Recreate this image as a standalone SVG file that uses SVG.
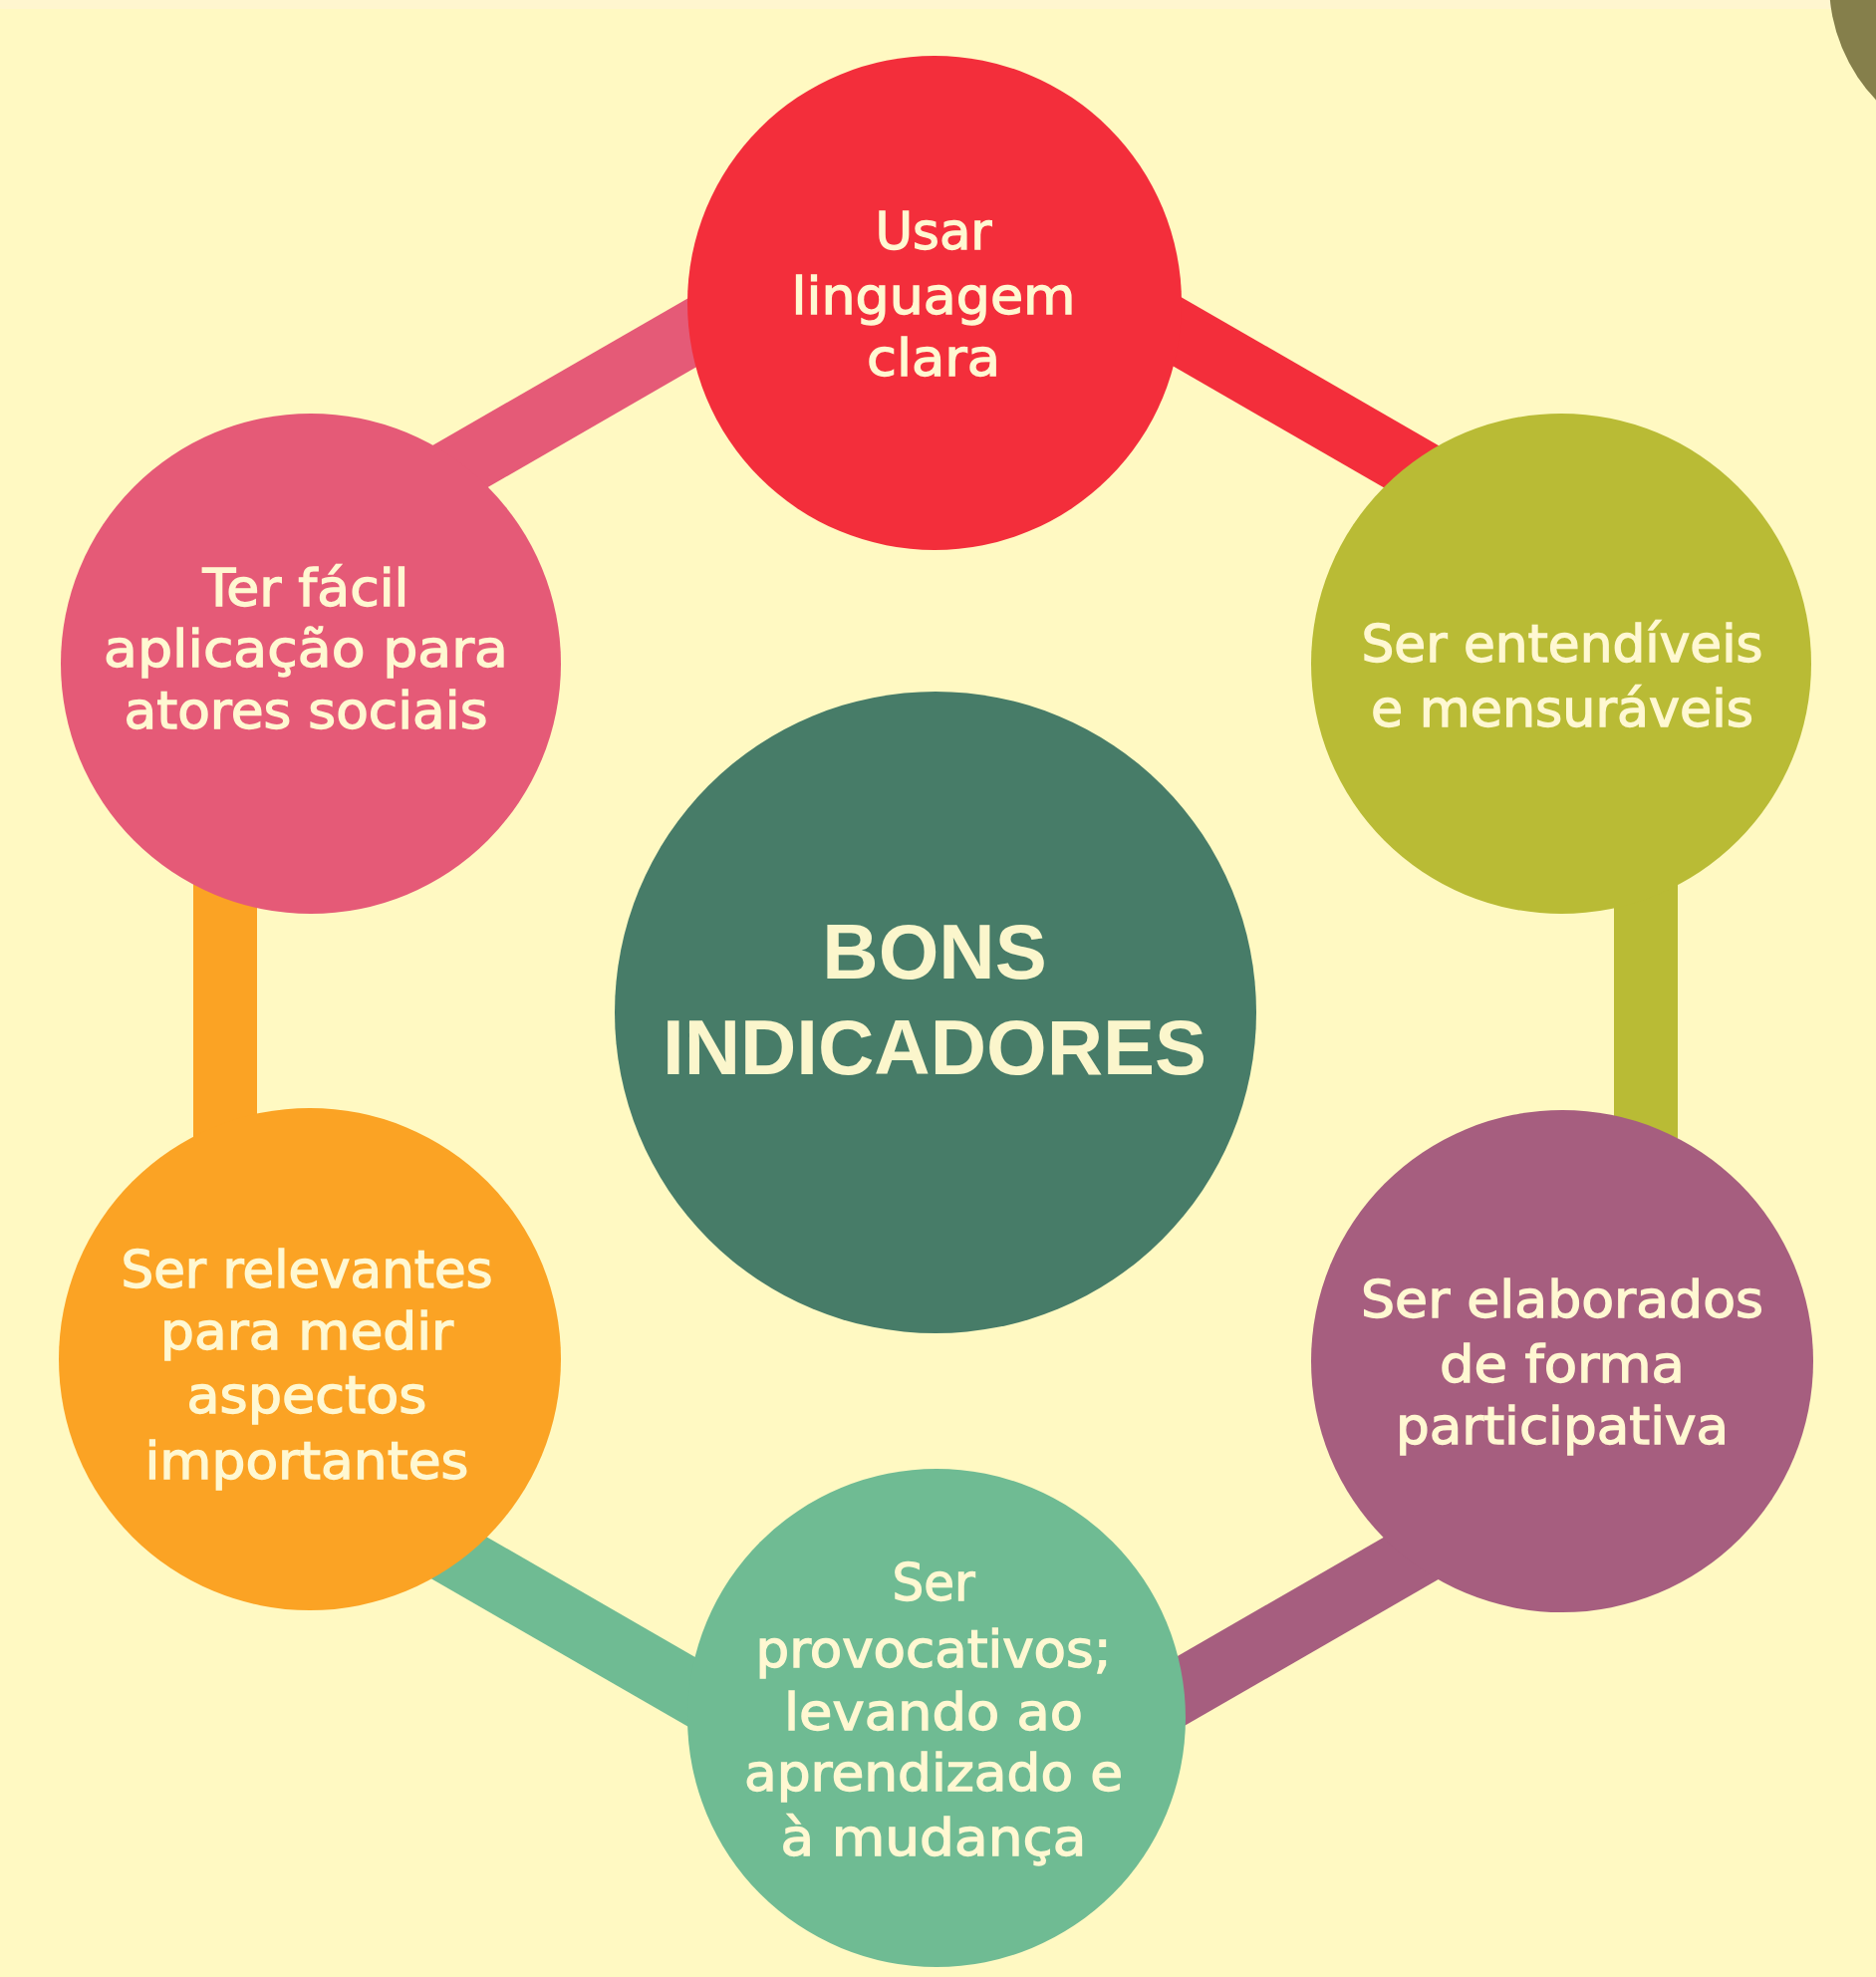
<svg xmlns="http://www.w3.org/2000/svg" width="1883" height="1984" viewBox="0 0 1883 1984">
<style>
.bg{fill:#FFF9C2}
.band{fill:none;stroke-width:64;stroke-linecap:butt}
.t{font-family:"DejaVu Sans","Liberation Sans",sans-serif;font-size:51px;fill:#FFF8D2;stroke:#FFF8D2;stroke-width:1.3px;text-anchor:middle}
.tc{font-family:"Liberation Sans",Arial,sans-serif;font-size:78px;font-weight:bold;fill:#FBF6CC;text-anchor:middle}
</style>
<rect class="bg" x="0" y="0" width="1883" height="1984"/>
<rect x="0" y="0" width="1883" height="9" fill="#FFF6CF"/>
<circle id="corner-deco" cx="2006" cy="-17" r="170" fill="#857F4B"/>
<g id="connectors">
<line class="band" x1="939" y1="193" x2="1652" y2="604" stroke="#F32E3B"/>
<line class="band" x1="1652" y1="604" x2="1652" y2="1428" stroke="#B9BB35"/>
<line class="band" x1="1652" y1="1428" x2="939" y2="1839" stroke="#A65E7F"/>
<line class="band" x1="939" y1="1839" x2="226" y2="1428" stroke="#6FBB93"/>
<line class="band" x1="226" y1="1428" x2="226" y2="604" stroke="#FBA324"/>
<line class="band" x1="226" y1="604" x2="939" y2="193" stroke="#E55A77"/>
</g>
<g id="center">
<circle cx="939" cy="1016" r="322" fill="#477C68"/>
<text class="tc" x="938" y="982">BONS</text>
<text class="tc" x="938" y="1078">INDICADORES</text>
</g>
<g id="node-red">
<circle cx="938" cy="304" r="248" fill="#F32E3B"/>
<text class="t" x="937" y="250" textLength="117" lengthAdjust="spacingAndGlyphs">Usar</text>
<text class="t" x="937" y="315" textLength="285" lengthAdjust="spacingAndGlyphs">linguagem</text>
<text class="t" x="937" y="377" textLength="134" lengthAdjust="spacingAndGlyphs">clara</text>
</g>
<g id="node-olive">
<circle cx="1567" cy="666" r="251" fill="#B9BB35"/>
<text class="t" x="1568" y="664" textLength="403" lengthAdjust="spacingAndGlyphs">Ser entendíveis</text>
<text class="t" x="1568" y="729" textLength="384" lengthAdjust="spacingAndGlyphs">e mensuráveis</text>
</g>
<g id="node-purple">
<circle cx="1568" cy="1366" r="252" fill="#A65E7F"/>
<text class="t" x="1568" y="1322" textLength="404" lengthAdjust="spacingAndGlyphs">Ser elaborados</text>
<text class="t" x="1568" y="1387" textLength="246" lengthAdjust="spacingAndGlyphs">de forma</text>
<text class="t" x="1568" y="1449" textLength="334" lengthAdjust="spacingAndGlyphs">participativa</text>
</g>
<g id="node-teal">
<circle cx="940" cy="1724" r="250" fill="#6FBB93"/>
<text class="t" x="937" y="1606" textLength="83" lengthAdjust="spacingAndGlyphs">Ser</text>
<text class="t" x="937" y="1673" textLength="357" lengthAdjust="spacingAndGlyphs">provocativos;</text>
<text class="t" x="937" y="1736" textLength="300" lengthAdjust="spacingAndGlyphs">levando ao</text>
<text class="t" x="937" y="1797" textLength="380" lengthAdjust="spacingAndGlyphs">aprendizado e</text>
<text class="t" x="937" y="1862" textLength="307" lengthAdjust="spacingAndGlyphs">à mudança</text>
</g>
<g id="node-orange">
<circle cx="311" cy="1364" r="252" fill="#FBA324"/>
<text class="t" x="308" y="1292" textLength="373" lengthAdjust="spacingAndGlyphs">Ser relevantes</text>
<text class="t" x="308" y="1354" textLength="294" lengthAdjust="spacingAndGlyphs">para medir</text>
<text class="t" x="308" y="1418" textLength="241" lengthAdjust="spacingAndGlyphs">aspectos</text>
<text class="t" x="308" y="1484" textLength="325" lengthAdjust="spacingAndGlyphs">importantes</text>
</g>
<g id="node-pink">
<circle cx="312" cy="666" r="251" fill="#E55A77"/>
<text class="t" x="307" y="608" textLength="207" lengthAdjust="spacingAndGlyphs">Ter fácil</text>
<text class="t" x="307" y="669" textLength="406" lengthAdjust="spacingAndGlyphs">aplicação para</text>
<text class="t" x="307" y="731" textLength="365" lengthAdjust="spacingAndGlyphs">atores sociais</text>
</g>
</svg>
